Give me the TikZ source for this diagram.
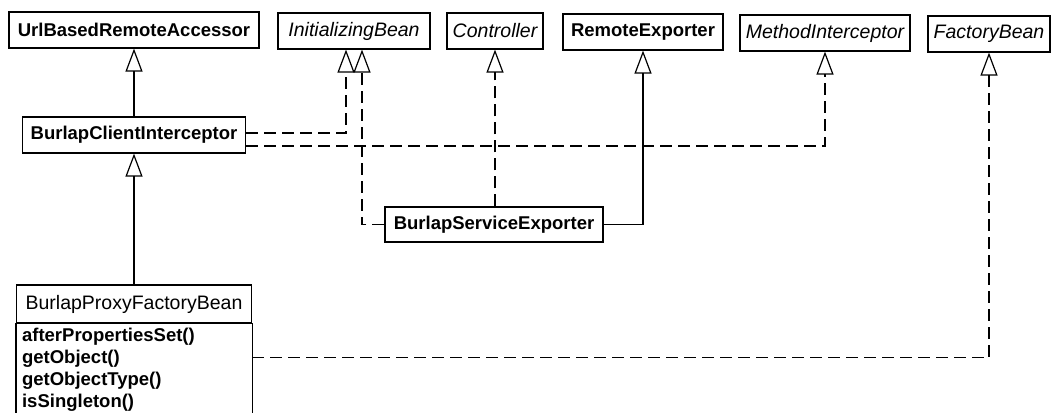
\documentclass[tikz,border=0pt]{standalone}
\usepackage{fontspec}
\setmainfont{Liberation Sans}
\usetikzlibrary{arrows.meta}

\tikzset{
  cls/.style={draw,line width=1.2pt,minimum height=36pt,inner sep=0pt,
    font=\bfseries\fontsize{18.5}{19}\selectfont},
  iface/.style={cls,font=\itshape\fontsize{19.5}{20}\selectfont},
  gen/.style={-{Triangle[open,length=23pt,width=17pt]},line width=1.2pt},
  realize/.style={gen,dash pattern=on 12pt off 6pt},
}

\begin{document}
\begin{tikzpicture}[x=1pt,y=-1pt]

  % Fixed frame, in pixels of the scan (y runs downwards).
  \useasboundingbox (0,0) rectangle (1051,412);

  % ---------------- Supertypes (top row) ----------------
  \node[cls,minimum width=250pt]   (url)   at (134,30) {UrlBasedRemoteAccessor};
  \node[iface,minimum width=152pt] (init)  at (354,31) {InitializingBean};
  \node[iface,minimum width=96pt]  (ctrl)  at (495,31) {Controller};
  \node[cls,minimum width=160pt]   (rexp)  at (643,32) {RemoteExporter};
  \node[iface,minimum width=170pt] (mint)  at (825,33) {MethodInterceptor};
  \node[iface,minimum width=122pt] (fbean) at (989,34) {FactoryBean};

  % ---------------- Burlap classes ----------------
  \node[cls,minimum width=223pt] (client) at (134,135) {BurlapClientInterceptor};
  \node[cls,minimum width=218pt,minimum height=35pt] (svcexp) at (494,224.5) {BurlapServiceExporter};

  % proxy factory bean: name compartment, then the operations (cut off at the bottom)
  \node[cls,font=\fontsize{19.5}{20}\selectfont,minimum width=235pt,minimum height=38pt]
    (proxy) at (134,304) {BurlapProxyFactoryBean};
  \draw[line width=1.2pt] (proxy.south west) rectangle (proxy.south east |- 0,440);
  \node[anchor=north west,align=left,inner sep=0pt,
        font=\bfseries\fontsize{18.5}{19}\selectfont]
    (ops) at ([xshift=6pt,yshift=-4pt]proxy.south west)
    {afterPropertiesSet()\\[3pt]getObject()\\[3pt]getObjectType()\\[3pt]isSingleton()};

  % ---------------- Generalization ----------------
  \draw[gen] (client) -- (url);
  \draw[gen] (proxy) -- (client);
  \draw[gen] (svcexp.east) -| (rexp.south);

  % ---------------- Realization ----------------
  \draw[realize] ([yshift=2pt]client.east) -| ([xshift=-8pt]init.south);
  \draw[realize] ([yshift=-11pt]client.east) -| (mint.south);
  \draw[realize] (svcexp.west) -| ([xshift=8pt]init.south);
  \draw[realize] (svcexp.north -| ctrl.south) -- (ctrl.south);
  \draw[realize] ([yshift=-34pt]proxy.south east) -| (fbean.south);

\end{tikzpicture}
\end{document}
